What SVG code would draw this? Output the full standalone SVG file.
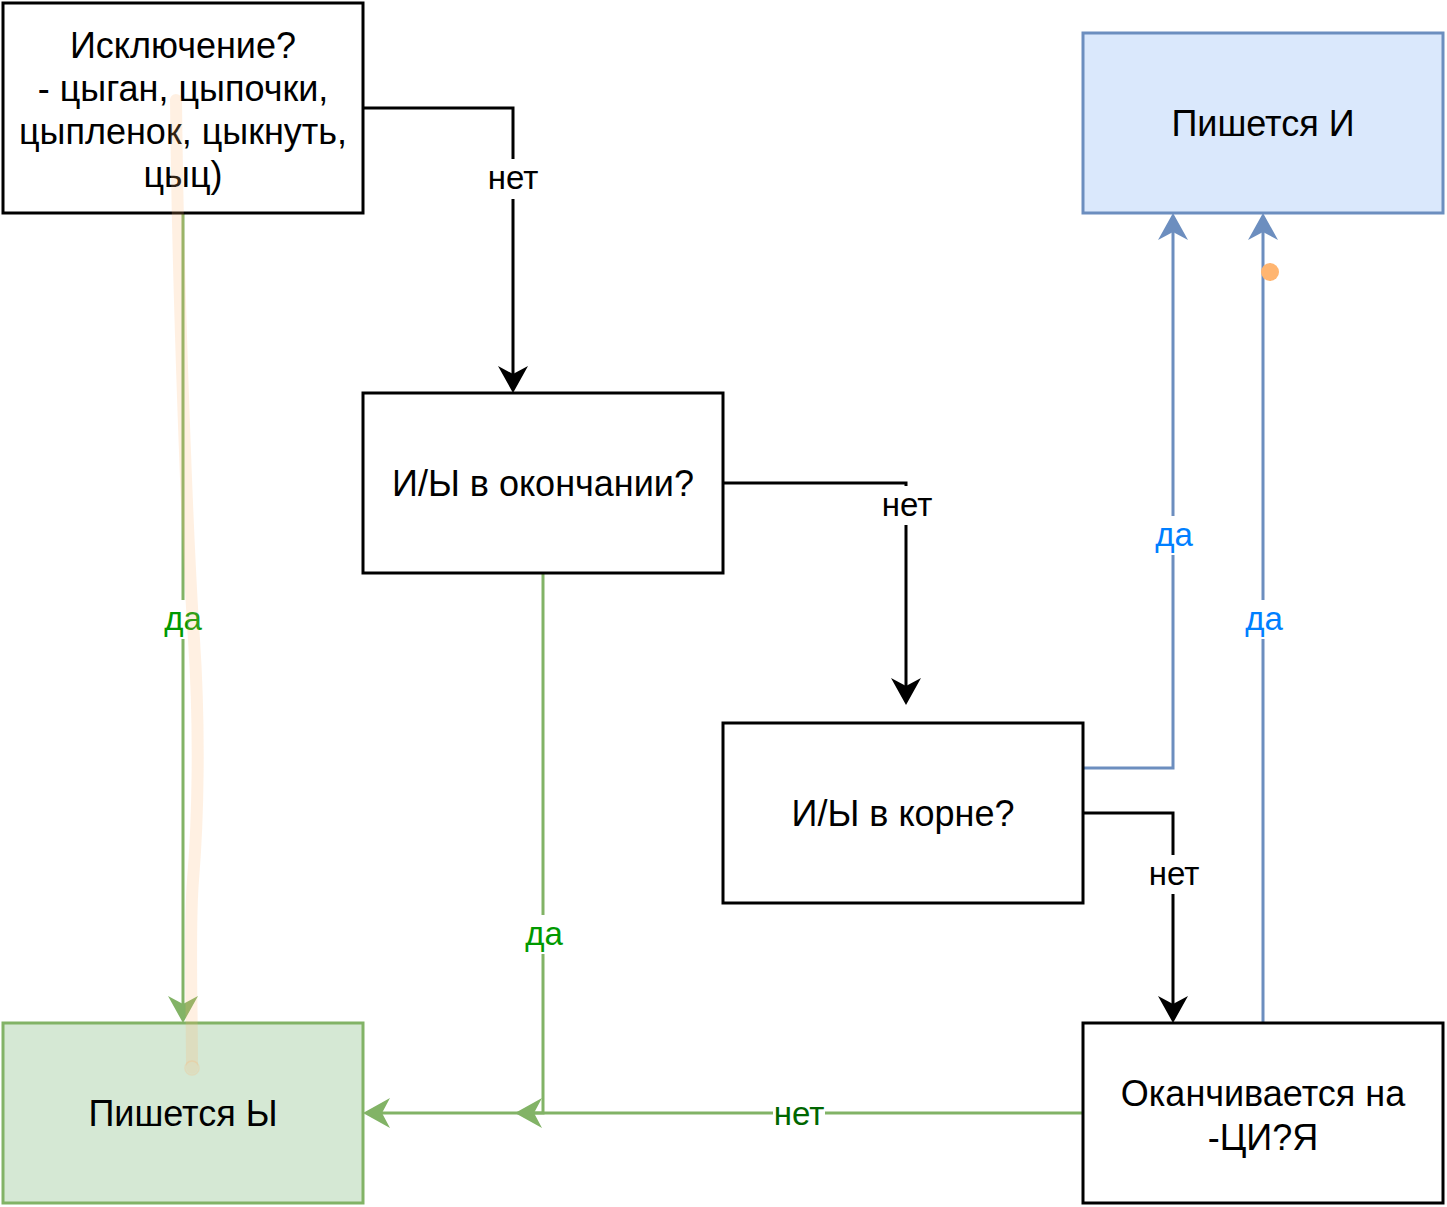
<svg xmlns="http://www.w3.org/2000/svg" width="1447" height="1207" viewBox="0 0 1447 1207">
<style>
.box{stroke-width:3}
.plain{fill:#ffffff;stroke:#000000}
.blue{fill:#dae8fc;stroke:#6c8ebf}
.green{fill:#d5e8d4;stroke:#82b366}
.nt{font-family:"Liberation Sans",Arial,sans-serif;font-size:36px;text-anchor:middle;fill:#000000}
.lb{font-family:"Liberation Sans",Arial,sans-serif;font-size:33px;text-anchor:middle}
.e{fill:none;stroke-width:3}
.ek{stroke:#000000}
.eb{stroke:#6c8ebf}
.eg{stroke:#82b366}
.bg{fill:#ffffff}
</style>
<defs>
<marker id="ak" viewBox="-18 -16 30 32" refX="0" refY="0" markerWidth="30" markerHeight="32" markerUnits="userSpaceOnUse" orient="auto">
<path d="M10,0 L-17,-15 L-9,0 L-17,15 Z" fill="#000000"/>
</marker>
<marker id="ab" viewBox="-18 -16 30 32" refX="0" refY="0" markerWidth="30" markerHeight="32" markerUnits="userSpaceOnUse" orient="auto">
<path d="M10,0 L-17,-15 L-9,0 L-17,15 Z" fill="#6c8ebf"/>
</marker>
<marker id="ag" viewBox="-18 -16 30 32" refX="0" refY="0" markerWidth="30" markerHeight="32" markerUnits="userSpaceOnUse" orient="auto">
<path d="M10,0 L-17,-15 L-9,0 L-17,15 Z" fill="#82b366"/>
</marker>
</defs>

<g id="connectors">
<path class="e ek" d="M363,108 H513 V383" marker-end="url(#ak)"/>
<path class="e ek" d="M723,483 H906 V695" marker-end="url(#ak)"/>
<path class="e eb" d="M1083,768 H1173 V223" marker-end="url(#ab)"/>
<path class="e ek" d="M1083,813 H1173 V1013" marker-end="url(#ak)"/>
<path class="e eb" d="M1263,1023 V223" marker-end="url(#ab)"/>
<path class="e eg" d="M1083,1113 H373" marker-end="url(#ag)"/>
<path class="e eg" d="M543,573 V1113 H525" marker-end="url(#ag)"/>
<path class="e eg" d="M183,213 V1013" marker-end="url(#ag)"/>

<rect class="bg" x="487" y="159" width="52" height="40"/>
<text class="lb" x="513" y="189" fill="#000000">нет</text>
<rect class="bg" x="881" y="486" width="52" height="39"/>
<text class="lb" x="907" y="516" fill="#000000">нет</text>
<rect class="bg" x="1153" y="516" width="42" height="39"/>
<text class="lb" x="1174" y="546" fill="#007fff">да</text>
<rect class="bg" x="1148" y="855" width="52" height="39"/>
<text class="lb" x="1174" y="885" fill="#000000">нет</text>
<rect class="bg" x="1243" y="600" width="42" height="39"/>
<text class="lb" x="1264" y="630" fill="#007fff">да</text>
<rect class="bg" x="773" y="1094" width="52" height="39"/>
<text class="lb" x="799" y="1125" fill="#006600">нет</text>
<rect class="bg" x="523" y="915" width="42" height="39"/>
<text class="lb" x="544" y="945" fill="#009900">да</text>
<rect class="bg" x="162" y="600" width="42" height="39"/>
<text class="lb" x="183" y="630" fill="#009900">да</text>
</g>

<g id="node-exception">
<rect class="box plain" x="3" y="3" width="360" height="210"/>
<text class="nt" x="183" y="57.5">Исключение?</text>
<text class="nt" x="183" y="100.7">- цыган, цыпочки,</text>
<text class="nt" x="183" y="143.9">цыпленок, цыкнуть,</text>
<text class="nt" x="183" y="187.1">цыц)</text>
</g>

<g id="node-write-i">
<rect class="box blue" x="1083" y="33" width="360" height="180"/>
<text class="nt" x="1263" y="136">Пишется И</text>
</g>

<g id="node-ending">
<rect class="box plain" x="363" y="393" width="360" height="180"/>
<text class="nt" x="543" y="496">И/Ы в окончании?</text>
</g>

<g id="node-root">
<rect class="box plain" x="723" y="723" width="360" height="180"/>
<text class="nt" x="903" y="826">И/Ы в корне?</text>
</g>

<g id="node-tsiya">
<rect class="box plain" x="1083" y="1023" width="360" height="180"/>
<text class="nt" x="1263" y="1105.5">Оканчивается на</text>
<text class="nt" x="1263" y="1149.5">-ЦИ?Я</text>
</g>

<g id="node-write-y">
<rect class="box green" x="3" y="1023" width="360" height="180"/>
<text class="nt" x="183" y="1126">Пишется Ы</text>
</g>

<g id="annotations">
<path d="M176,100 C178,300 188,550 194,640 C200,730 198,820 193,880 C189,930 192,1000 192,1068" fill="none" stroke="#ffb570" stroke-opacity="0.2" stroke-width="12" stroke-linecap="round" stroke-linejoin="round"/>
<circle cx="192" cy="1068" r="7" fill="none" stroke="#ffb570" stroke-opacity="0.25" stroke-width="1.5"/>
<circle cx="1270" cy="272" r="9" fill="#ffb570"/>
</g>
</svg>
